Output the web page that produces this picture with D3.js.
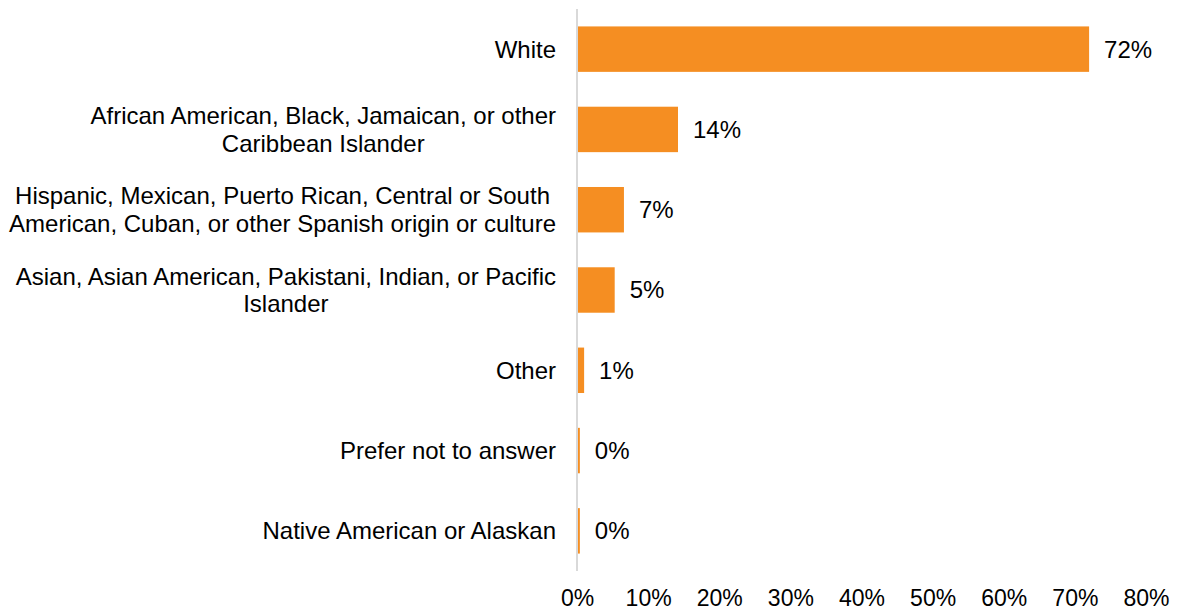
<!DOCTYPE html>
<html>
<head>
<meta charset="utf-8">
<script src="https://cdn.jsdelivr.net/npm/d3@7"></script>
<style>
  html, body { margin: 0; padding: 0; background: #fff; }
  svg { display: block; font-family: Arial, "Liberation Sans", sans-serif; }
</style>
</head>
<body>
<svg id="chart" width="1184" height="611"></svg>
<script>
// Respondent ethnicity shares (fraction of respondents)
const categories = [
  "White",
  "African American, Black, Jamaican, or other\nCaribbean Islander",
  "Hispanic, Mexican, Puerto Rican, Central or South\nAmerican, Cuban, or other Spanish origin or culture",
  "Asian, Asian American, Pakistani, Indian, or Pacific\nIslander",
  "Other",
  "Prefer not to answer",
  "Native American or Alaskan"
];
const shares = [0.72, 0.142, 0.066, 0.053, 0.010, 0.004, 0.004];
const tickValues = [0, 0.1, 0.2, 0.3, 0.4, 0.5, 0.6, 0.7, 0.8];

const svg = d3.select("#chart");
const fmt = d3.format(".0%");

const x = d3.scaleLinear().domain([0, 0.8]).range([577, 1146]);
const y = d3.scaleBand()
  .domain(categories)
  .range([9, 571])
  .paddingInner(0.434)
  .paddingOuter(0.217);

// Bars
svg.append("g").selectAll("rect")
  .data(categories)
  .join("rect")
  .attr("x", x(0) + 1)
  .attr("y", d => y(d))
  .attr("width", (d, i) => Math.max(0, x(shares[i]) - x(0) - 1))
  .attr("height", y.bandwidth())
  .attr("fill", "#f58e22");

// Vertical baseline
svg.append("line")
  .attr("x1", x(0)).attr("x2", x(0))
  .attr("y1", 9).attr("y2", 571)
  .attr("stroke", "#d9d9d9")
  .attr("stroke-width", 2);

// Category labels: lines centred on each other, block right-aligned to the axis
const labelRight = 556;
const catG = svg.append("g")
  .attr("font-size", 24)
  .attr("fill", "#000")
  .attr("text-anchor", "middle");
categories.forEach(c => {
  const lines = c.split("\n");
  const lh = 27.5;
  const cy = y(c) + y.bandwidth() / 2;
  const t = catG.append("text");
  const spans = lines.map((ln, k) => t.append("tspan")
    .attr("y", cy + (k - (lines.length - 1) / 2) * lh)
    .attr("dy", "0.35em")
    .text(ln));
  const maxW = d3.max(spans, s => s.node().getComputedTextLength());
  spans.forEach(s => s.attr("x", labelRight - maxW / 2));
});

// Value labels
svg.append("g").selectAll("text")
  .data(categories)
  .join("text")
  .attr("x", (d, i) => x(shares[i]) + 15)
  .attr("y", d => y(d) + y.bandwidth() / 2)
  .attr("dy", "0.35em")
  .attr("font-size", 24)
  .attr("fill", "#000")
  .text((d, i) => fmt(shares[i]));

// X axis tick labels
const xAxis = d3.axisBottom(x)
  .tickValues(tickValues)
  .tickFormat(fmt)
  .tickSize(0)
  .tickPadding(0);
const ax = svg.append("g")
  .attr("transform", "translate(0,590)")
  .call(xAxis);
ax.select(".domain").remove();
ax.selectAll("text")
  .attr("font-size", 23)
  .attr("font-family", "Arial, 'Liberation Sans', sans-serif")
  .attr("fill", "#000")
  .attr("dy", "0.71em");
</script>
</body>
</html>
